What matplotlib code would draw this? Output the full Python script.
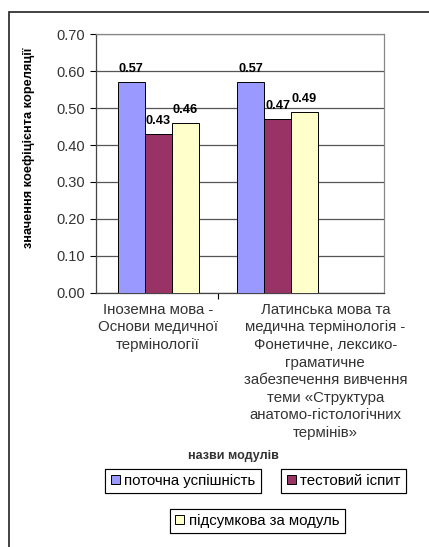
import numpy as np
import matplotlib
matplotlib.use('Agg')
import matplotlib.pyplot as plt
from matplotlib.patches import Rectangle, Patch

plt.rcParams['font.family'] = ['Liberation Sans', 'DejaVu Sans']

categories = ['Іноземна мова -\nОснови медичної\nтермінології',
              'Латинська мова та\nмедична термінологія -\nФонетичне, лексико-\nграматичне\n'
              'забезпечення вивчення\nтеми «Структура\nанатомо-гістологічних\nтермінів»']
series = ['поточна успішність', 'тестовий іспит', 'підсумкова за модуль']
current = [0.57, 0.57]
test = [0.43, 0.47]
final = [0.46, 0.49]
colors = ['#9999FF', '#993366', '#FFFFCC']

fig = plt.figure(figsize=(4.29, 5.47), dpi=100)
ax = fig.add_axes([0.224, 0.4644, 0.671, 0.4734])

x = np.arange(len(categories))
w = 0.226
for i, (vals, col, name) in enumerate(zip([current, test, final], colors, series)):
    bars = ax.bar(x + (i - 1) * w, vals, width=w, color=col, edgecolor='black',
                  linewidth=0.7, zorder=3, label=name)
    ax.bar_label(bars, labels=[f'{v:.2f}' for v in vals], padding=5,
                 fontsize=9.2, fontweight='bold')

ax.set_xlim(-0.519, 1.891)
ax.set_ylim(0, 0.70)
ax.set_yticks(np.arange(0, 0.71, 0.1))
ax.set_yticklabels([f'{v:.2f}' for v in np.arange(0, 0.71, 0.1)], fontsize=10.5, color='#333333')
ax.yaxis.grid(True, color='#555555', linewidth=0.9, zorder=0)
ax.tick_params(axis='y', length=4, width=0.8, pad=4)
ax.set_xticks([0.502])
ax.set_xticklabels([''])
ax.tick_params(axis='x', length=4, width=0.8)
for s in ['left', 'bottom']:
    ax.spines[s].set_color('#444444')
    ax.spines[s].set_linewidth(0.9)
for s in ['top', 'right']:
    ax.spines[s].set_color('#888888')
    ax.spines[s].set_linewidth(0.9)

ax.set_ylabel('значення коефіцієнта кореляції', fontsize=9.2, fontweight='bold')
ax.yaxis.set_label_coords(-0.212, 0.56)

label_x = [0.0, 1.40]
for lx, lab in zip(label_x, categories):
    ax.annotate(lab, xy=(lx, 0), xycoords=('data', 'axes fraction'),
                xytext=(0, -7), textcoords='offset points', ha='center', va='top',
                multialignment='center', fontsize=10.8, color='#333333', linespacing=1.33)

fig.text(0.543, 0.166, 'назви модулів', ha='center', va='center', fontsize=9,
         fontweight='bold', color='#333333')

legend_pos = [(0.4266, 0.1207), (0.8007, 0.1207), (0.6002, 0.0475)]
for col, name, pos in zip(colors, series, legend_pos):
    leg = fig.legend(handles=[Patch(facecolor=col, edgecolor='black', linewidth=0.7)],
                     labels=[name], loc='center', bbox_to_anchor=pos,
                     fontsize=10.8, fancybox=False, edgecolor='black', framealpha=1,
                     handlelength=0.6, handleheight=0.6, handletextpad=0.3,
                     borderpad=0.35, borderaxespad=0)
    leg.get_frame().set_linewidth(0.8)
    fig.add_artist(leg)

fig.patches.append(Rectangle((9 / 429, -0.05), 1.0, 1 - 12 / 547 + 0.05,
                             transform=fig.transFigure, fill=False,
                             edgecolor='#222222', linewidth=1.2))

fig.savefig('out.png', dpi=100)
